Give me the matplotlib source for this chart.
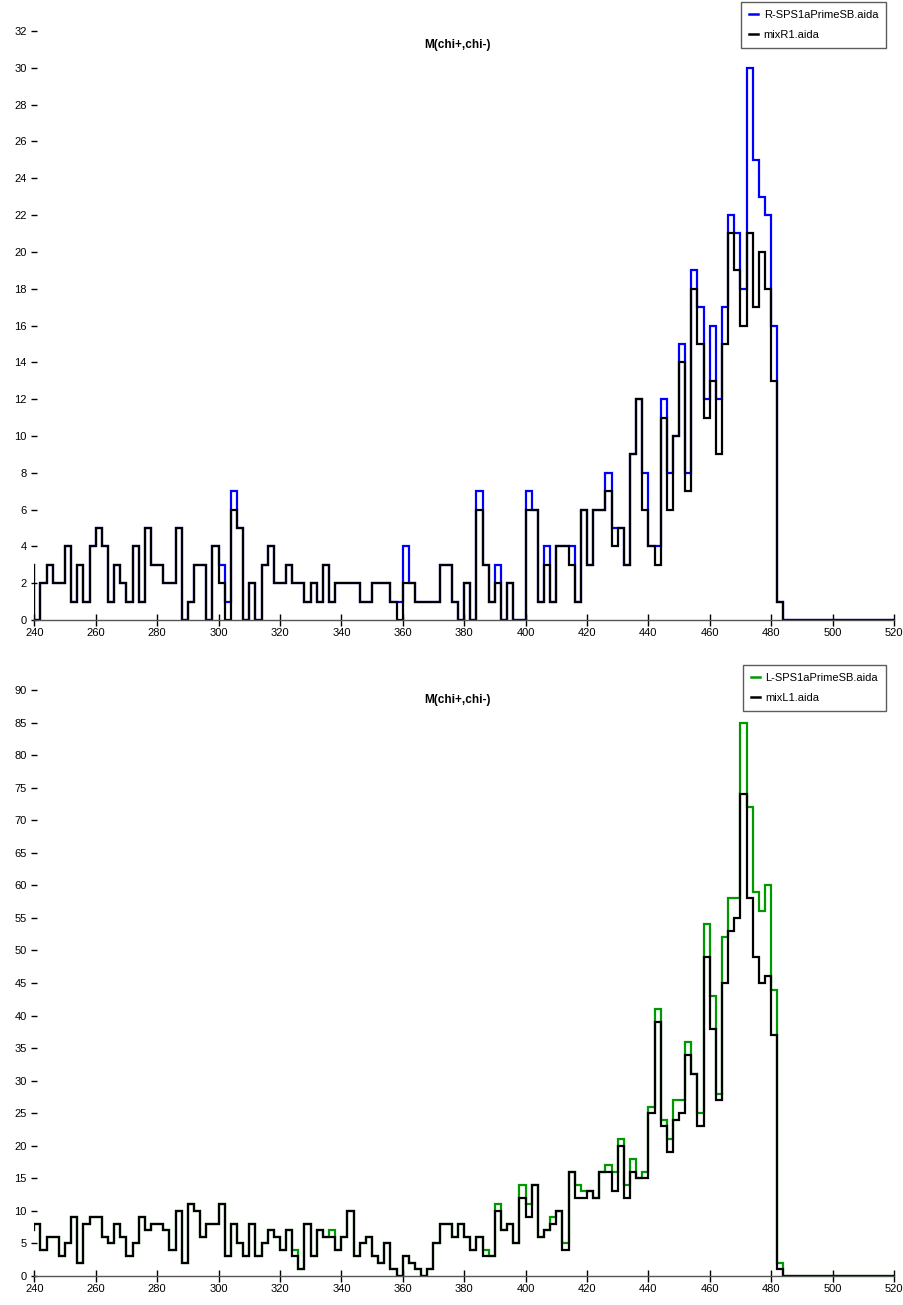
import numpy as np
import matplotlib
matplotlib.use("Agg")
import matplotlib.pyplot as plt

plt.rcParams['font.family'] = ['Liberation Sans', 'DejaVu Sans']

# bin edges: 2-unit bins from 238 to 520 (first bin lies just left of the visible range)
bin_lo, bin_hi, bin_w = 238, 520, 2

# ---- top panel ----
mixR1 = [3,
         0, 2, 3, 2, 2, 4, 1, 3, 1, 4, 5, 4, 1, 3, 2, 1, 4, 1, 5, 3,
         3, 2, 2, 5, 0, 1, 3, 3, 0, 4, 2, 0, 6, 5, 0, 2, 0, 3, 4, 2,
         2, 3, 2, 2, 1, 2, 1, 3, 1, 2, 2, 2, 2, 1, 1, 2, 2, 2, 1, 0,
         2, 2, 1, 1, 1, 1, 3, 3, 1, 0, 2, 0, 6, 3, 1, 2, 0, 2, 0, 0,
         6, 6, 1, 3, 1, 4, 4, 3, 1, 6, 3, 6, 6, 7, 4, 5, 3, 9, 12, 6,
         4, 3, 11, 6, 10, 14, 7, 18, 15, 11, 13, 9, 15, 21, 19, 16, 21, 17, 20, 18,
         13, 1,
         0, 0, 0, 0, 0, 0, 0, 0, 0, 0, 0, 0, 0, 0, 0, 0, 0, 0]
R_SPS1aPrimeSB = [3,
         0, 2, 3, 2, 2, 4, 1, 3, 1, 4, 5, 4, 1, 3, 2, 1, 4, 1, 5, 3,
         3, 2, 2, 5, 0, 1, 3, 3, 0, 4, 3, 1, 7, 5, 0, 2, 0, 3, 4, 2,
         2, 3, 2, 2, 1, 2, 1, 3, 1, 2, 2, 2, 2, 1, 1, 2, 2, 2, 1, 1,
         4, 2, 1, 1, 1, 1, 3, 3, 1, 0, 2, 0, 7, 3, 1, 3, 0, 2, 0, 0,
         7, 6, 1, 4, 1, 4, 4, 4, 1, 6, 3, 6, 6, 8, 5, 5, 3, 9, 12, 8,
         4, 4, 12, 8, 10, 15, 8, 19, 17, 12, 16, 12, 17, 22, 21, 18, 30, 25, 23, 22,
         16, 1,
         0, 0, 0, 0, 0, 0, 0, 0, 0, 0, 0, 0, 0, 0, 0, 0, 0, 0]

# ---- bottom panel ----
mixL1 = [7,
         8, 4, 6, 6, 3, 5, 9, 2, 8, 9, 9, 6, 5, 8, 6, 3, 5, 9, 7, 8,
         8, 7, 4, 10, 2, 11, 10, 6, 8, 8, 11, 3, 8, 5, 3, 8, 3, 5, 7, 6,
         4, 7, 3, 1, 8, 3, 7, 6, 6, 4, 6, 10, 3, 5, 6, 3, 2, 5, 1, 0,
         3, 2, 1, 0, 1, 5, 8, 8, 6, 8, 6, 4, 6, 3, 3, 10, 7, 8, 5, 12,
         9, 14, 6, 7, 8, 10, 4, 16, 12, 12, 13, 12, 16, 16, 13, 20, 12, 16, 15, 15,
         25, 39, 23, 19, 24, 25, 34, 31, 23, 49, 38, 27, 45, 53, 55, 74, 58, 49, 45, 46,
         37, 1,
         0, 0, 0, 0, 0, 0, 0, 0, 0, 0, 0, 0, 0, 0, 0, 0, 0, 0]
L_SPS1aPrimeSB = [7,
         8, 4, 6, 6, 3, 5, 9, 2, 8, 9, 9, 6, 5, 8, 6, 3, 5, 9, 7, 8,
         8, 7, 4, 10, 2, 11, 10, 6, 8, 8, 11, 3, 8, 5, 3, 8, 3, 5, 7, 6,
         4, 7, 4, 1, 8, 3, 7, 6, 7, 4, 6, 10, 3, 5, 6, 3, 2, 5, 1, 0,
         3, 2, 1, 0, 1, 5, 8, 8, 6, 8, 6, 4, 6, 4, 3, 11, 7, 8, 5, 14,
         11, 14, 6, 7, 9, 10, 5, 16, 14, 13, 13, 12, 16, 17, 16, 21, 14, 18, 15, 16,
         26, 41, 24, 21, 27, 27, 36, 31, 25, 54, 43, 28, 52, 58, 58, 85, 72, 59, 56, 60,
         44, 2,
         0, 0, 0, 0, 0, 0, 0, 0, 0, 0, 0, 0, 0, 0, 0, 0, 0, 0]

title = "M(chi+,chi-)"
x_ticks = list(range(240, 521, 20))
top_yticks = list(range(0, 33, 2))
bot_yticks = list(range(0, 91, 5))

edges = np.arange(bin_lo, bin_hi + bin_w, bin_w)

W, H = 904, 1305
fig = plt.figure(figsize=(W / 100, H / 100), dpi=100)

def px_axes(x0, y_top, x1, y_bot):
    return fig.add_axes([x0 / W, 1 - y_bot / H, (x1 - x0) / W, (y_bot - y_top) / H])

ax1 = px_axes(34.3, 31, 894, 620)
ax2 = px_axes(34.3, 690, 894, 1276)

def style(ax, yticks, ymax):
    ax.set_xlim(240, 520)
    ax.set_ylim(0, ymax)
    for s in ['top', 'right', 'left']:
        ax.spines[s].set_visible(False)
    ax.spines['bottom'].set_color('#555555')
    ax.spines['bottom'].set_linewidth(1.0)
    ax.set_xticks(x_ticks)
    ax.set_yticks(yticks)
    ax.tick_params(axis='x', direction='inout', length=8, width=1, color='black',
                   labelsize=8, pad=2)
    ax.tick_params(axis='y', direction='inout', length=5, width=1, color='black',
                   labelsize=8, pad=3)
    for t in ax.get_xticklabels() + ax.get_yticklabels():
        t.set_clip_on(False)
    ax.set_title('')
    ax.text(0.4917, 0.0, title, transform=ax.transAxes, ha='center', va='center',
            fontsize=8.5, fontweight='bold')

# top
ax1.stairs(R_SPS1aPrimeSB, edges, baseline=None, color='#0000ff', lw=1.6,
           label='R-SPS1aPrimeSB.aida')
ax1.stairs(mixR1, edges, baseline=None, color='black', lw=1.6, label='mixR1.aida')
style(ax1, top_yticks, 32)
ax1.texts[-1].set_position((0.4917, (620 - 45) / 589))

# bottom
ax2.stairs(L_SPS1aPrimeSB, edges, baseline=None, color='#009900', lw=1.6,
           label='L-SPS1aPrimeSB.aida')
ax2.stairs(mixL1, edges, baseline=None, color='black', lw=1.6, label='mixL1.aida')
style(ax2, bot_yticks, 90)
ax2.texts[-1].set_position((0.4917, (1276 - 700) / 586))

def legend(ax, top_px):
    h, l = ax.get_legend_handles_labels()
    from matplotlib.lines import Line2D
    hh = [Line2D([0], [0], color=x.get_edgecolor(), lw=1.8) for x in h]
    leg = fig.legend(hh, l, loc='upper right',
                     bbox_to_anchor=(886 / W, 1 - top_px / H),
                     bbox_transform=fig.transFigure,
                     fontsize=8, frameon=True, fancybox=False, shadow=False,
                     handlelength=0.8, handletextpad=0.5, labelspacing=0.9,
                     borderpad=0.7, borderaxespad=0)
    leg.get_frame().set_edgecolor('#333333')
    leg.get_frame().set_linewidth(1.0)

legend(ax1, 2)
legend(ax2, 665)

fig.savefig('out.png', dpi=100)
